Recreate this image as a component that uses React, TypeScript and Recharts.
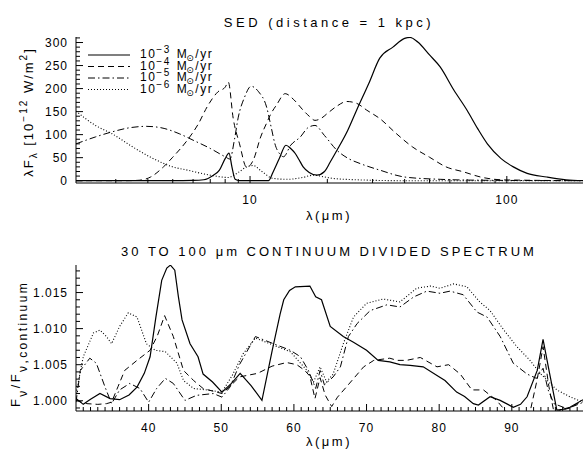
import React from 'react';
import { LineChart, Line, XAxis, YAxis } from 'recharts';

const FONT = '"Liberation Sans", Arial, sans-serif';

// top panel: SED, wavelength (micron) vs lambda*F_lambda (1e-12 W/m^2)
const sedLam3 = [2.1, 5.0, 6.0, 6.6, 7.2, 7.6, 8.0, 8.28, 8.5, 8.75, 9.1, 11.8, 12.3, 13.0, 13.8, 14.4, 15.0, 15.5, 16.1, 17.0, 18.2, 19.5, 20.5, 21.8, 24, 26, 29, 32, 36, 40, 42, 45, 50, 55, 62, 70, 77, 84, 95, 106, 120, 143, 170, 200];
const sedFlux3 = [0, 0, 0.5, 2, 12, 23, 48, 60, 30, 3, 0, 0, 19, 48, 77, 70, 59, 46, 30, 18, 12, 20, 40, 66, 109, 153, 211, 266, 290, 309, 311, 301, 273, 247, 198, 153, 113, 80, 48, 30, 16, 8, 2, 0];

const sedLam4 = [2.1, 3.3, 3.7, 4.1, 4.6, 5.0, 5.7, 6.3, 6.8, 7.5, 8.0, 8.23, 8.6, 9.1, 9.7, 10.3, 11.0, 11.6, 12.0, 12.7, 13.7, 14.8, 16.1, 17.0, 17.9, 19.0, 20.0, 21.8, 23.8, 26, 28.5, 32, 37, 43, 50, 58, 68, 79, 95, 120, 200];
const sedFlux4 = [0, 0, 1, 8, 30, 51, 88, 124, 160, 193, 203, 214, 135, 80, 29, 45, 95, 125, 143, 165, 189, 176, 153, 140, 131, 136, 146, 162, 172, 168, 153, 135, 103, 73, 51, 30, 19, 8, 2, 1, 0];

const sedLam5 = [2.1, 2.5, 2.9, 3.4, 3.95, 4.5, 5.3, 6.0, 7.0, 8.0, 8.35, 8.7, 9.0, 9.5, 10.1, 10.8, 11.6, 12.1, 12.5, 13.1, 13.5, 14.4, 15.7, 16.8, 17.9, 19.5, 21.8, 24, 26.9, 32, 40, 55, 80, 200];
const sedFlux5 = [80, 95, 106, 115, 118, 115, 102, 88, 70, 52, 47, 90, 138, 180, 205, 193, 160, 115, 80, 57, 52, 77, 95, 115, 120, 98, 66, 49, 37, 23, 8, 3, 1, 0];

const sedLam6 = [2.1, 2.5, 2.9, 3.5, 4.1, 5.0, 5.7, 7.0, 8.2, 9.0, 9.7, 10.3, 11.0, 12.3, 14.0, 16.0, 17.7, 19.5, 21.0, 26, 40, 200];
const sedFlux6 = [151, 120, 102, 73, 51, 30, 23, 12, 7, 18, 30, 33, 22, 5, 3, 7, 12, 8, 5, 2, 0, 0];

// bottom panel: F_nu / F_nu,continuum between 30 and 100 micron
const divLam3 = [30, 31, 32, 33.3, 34.7, 36, 37.3, 38.4, 39.4, 40.2, 41, 41.8, 42.5, 43, 43.6, 44.1, 44.6, 45.7, 46.8, 47.5, 48.8, 50.1, 51.4, 52.6, 54.1, 55.6, 57, 58.1, 58.6, 59.4, 60.2, 62.2, 63.0, 63.8, 65, 66.8, 68.2, 70, 71.6, 73.2, 74.6, 76, 77.8, 79.7, 80.8, 82.4, 83.5, 84.7, 85.4, 87, 88.4, 90.2, 91.2, 92.1, 93.5, 94.3, 95.2, 96.2, 97, 98, 99.8];
const divRatio3 = [1.0003, 0.9995, 1.0002, 1.001, 1.0003, 1.00015, 1.0008, 1.0019, 1.0038, 1.0061, 1.0116, 1.0167, 1.0184, 1.0188, 1.0181, 1.0144, 1.0112, 1.0079, 1.0061, 1.0037, 1.0026, 1.0012, 1.0024, 1.0038, 1.0021, 1.00005, 1.0069, 1.012, 1.014, 1.0153, 1.0158, 1.0159, 1.0144, 1.014, 1.0103, 1.0089, 1.0081, 1.007, 1.0056, 1.0054, 1.005, 1.0049, 1.0047, 1.0035, 1.0028, 1.0012, 1.0006, 0.9996, 0.9994, 1.00055, 1.00005, 0.9991, 0.9995, 1.00055, 1.0042, 1.0085, 1.0038, 0.9987, 0.9988, 0.9991, 1.00015];

const divLam4 = [30, 31.5, 33, 34.2, 34.9, 35.8, 36.7, 38.4, 40.2, 41.2, 42.2, 43.4, 44.8, 46.2, 47.5, 50.1, 51.2, 52.5, 55, 57, 59, 60.4, 61.5, 62.2, 62.9, 63.6, 64.3, 65.2, 66, 67.3, 69.6, 71, 73.2, 74.2, 75.5, 77.4, 79.7, 81.3, 82.9, 84.5, 86.1, 87.9, 89.3, 92.5, 93.5, 94.3, 95.1, 95.8, 98, 99, 99.8];
const divRatio4 = [1.00005, 0.9996, 0.9995, 0.9996, 0.9998, 1.002, 1.0042, 1.0056, 1.007, 1.009, 1.0118, 1.0089, 1.0042, 1.0028, 1.0017, 1.001, 1.002, 1.0033, 1.0038, 1.0048, 1.0053, 1.005, 1.0042, 1.0034, 1.0003, 1.0032, 1.0008, 0.9992, 1.0005, 1.002, 1.0047, 1.0056, 1.0059, 1.0056, 1.0056, 1.006, 1.0047, 1.005, 1.0037, 1.0015, 1.0015, 1.00005, 0.9984, 0.9984, 1.003, 1.0075, 1.002, 0.9984, 0.999, 0.9996, 1.0];

const divLam5 = [30, 30.6, 31.9, 32.8, 34, 34.9, 36, 37.4, 38.8, 40, 41.1, 42.3, 43.4, 45, 46.6, 48.9, 50.1, 51.2, 52.5, 54.7, 57.2, 59.5, 60.9, 62, 63, 63.6, 64.2, 65.4, 66.4, 67.5, 68.7, 70.5, 72.8, 74.6, 76.5, 78.3, 80.1, 81.5, 83.3, 85.2, 86.6, 88.4, 90.2, 92.1, 93.4, 94.3, 95.0, 95.8, 97.6, 99.4, 99.8];
const divRatio5 = [0.9998, 1.0042, 1.0059, 1.0052, 1.0019, 0.9996, 1.0015, 1.0024, 1.0017, 0.9998, 1.0017, 1.0031, 1.0024, 1.00005, 1.00075, 1.001, 1.0005, 1.0019, 1.005, 1.0089, 1.0079, 1.007, 1.0061, 1.0042, 1.0017, 1.0042, 1.0022, 1.0033, 1.0047, 1.0089, 1.0107, 1.0125, 1.0133, 1.013, 1.0144, 1.0152, 1.0149, 1.0152, 1.0147, 1.0123, 1.0116, 1.0089, 1.0052, 1.0037, 1.0031, 1.0045, 1.0015, 0.9996, 0.9989, 0.9996, 0.9998];

const divLam6 = [30, 31, 32.4, 33.3, 34.2, 34.9, 36, 37.2, 38.4, 39.7, 40.9, 42.3, 43.9, 44.8, 46.2, 48, 50.1, 51.5, 53, 54.7, 57.2, 59.5, 61.8, 62.7, 63.6, 64.5, 65.4, 66.8, 68.2, 70, 72.3, 74.6, 76.9, 78.8, 80.1, 82, 83.8, 85.6, 87, 88.9, 90.7, 92.5, 93.9, 96.2, 98, 99.8];
const divRatio6 = [1.001, 1.0061, 1.0094, 1.0098, 1.0089, 1.0079, 1.0103, 1.0122, 1.0116, 1.0079, 1.007, 1.0068, 1.0052, 1.0028, 1.0017, 1.0015, 1.0012, 1.0035, 1.0065, 1.0087, 1.0077, 1.0068, 1.0042, 1.0026, 1.0047, 1.0026, 1.0037, 1.0079, 1.0116, 1.0135, 1.0141, 1.0137, 1.0156, 1.0159, 1.0156, 1.0162, 1.0158, 1.0137, 1.0125, 1.0098, 1.0075, 1.0056, 1.0038, 1.0015, 1.00055, 0.9998];

// legend: mass-loss rate exponents (M_sun/yr)
const rateExponents = ['\u22123', '\u22124', '\u22125', '\u22126'];

// tick labels
const sedXLabels = [10, 100];
const sedYLabels = [0, 50, 100, 150, 200, 250, 300];
const divXLabels = [40, 50, 60, 70, 80, 90];
const divYLabels = [1.0, 1.005, 1.01, 1.015];
const sedXTicks = [3, 4, 5, 6, 7, 8, 9, 10, 20, 30, 40, 50, 60, 70, 80, 90, 100];

const steps = (from: number, to: number, step: number, dec: number) => {
  const out: number[] = [];
  for (let v = from; v <= to + step / 2; v += step) out.push(+v.toFixed(dec));
  return out;
};
const sedYTicks = steps(0, 310, 10, 0);
const divXTicks = steps(31, 99, 1, 0);
const divYTicks = steps(0.999, 1.018, 0.001, 3);

const zip = (xs: number[], ys: number[]) => xs.map((x, i) => ({ x, y: ys[i] }));

// solid, dashed, dash-dot, dotted (IDL linestyles 0..3)
const lineStyles = [
  { dash: undefined as string | undefined, width: 1.2 },
  { dash: '6 4', width: 1 },
  { dash: '7 3 1.5 3', width: 1 },
  { dash: '1 2', width: 1.1 },
];

type Side = 'bottom' | 'top' | 'left' | 'right';

const tickText: React.CSSProperties = { fontFamily: FONT, fontSize: 12, letterSpacing: 1, fill: '#000' };

function makeTick(side: Side, labels: number[], fmt?: (v: number) => string) {
  return (props: any) => {
    const { x, y, payload } = props;
    const v: number = payload.value;
    const major = labels.some((m) => Math.abs(m - v) < 1e-9);
    const len = major ? 7 : 4;
    const dx = side === 'left' ? len : side === 'right' ? -len : 0;
    const dy = side === 'bottom' ? -len : side === 'top' ? len : 0;
    return (
      <g>
        <line x1={x} y1={y} x2={x + dx} y2={y + dy} stroke="#000" strokeWidth={1} />
        {major && fmt && side === 'bottom' ? (
          <text x={x} y={y + 21} textAnchor="middle" style={tickText}>{fmt(v)}</text>
        ) : null}
        {major && fmt && side === 'left' ? (
          <text x={x - 8} y={y + 4} textAnchor="end" style={tickText}>{fmt(v)}</text>
        ) : null}
      </g>
    );
  };
}

interface PanelProps {
  top: number;
  series: { x: number; y: number }[][];
  xScale: 'log' | 'linear';
  xDomain: [number, number];
  xTicks: number[];
  xLabels: number[];
  yDomain: [number, number];
  yTicks: number[];
  yLabels: number[];
  yFmt: (v: number) => string;
  curve: 'monotone' | 'linear';
}

function Panel(p: PanelProps) {
  const axisLine = { stroke: '#000', strokeWidth: 1 };
  return (
    <div style={{ position: 'absolute', left: 0, top: p.top }}>
      <LineChart width={584} height={220} margin={{ top: 37, right: 1, bottom: 7, left: 0 }}>
        <XAxis xAxisId="b" dataKey="x" type="number" scale={p.xScale} domain={p.xDomain} allowDataOverflow
          ticks={p.xTicks} interval={0} tickSize={0} tickMargin={0} tickLine={false} axisLine={axisLine}
          height={30} tick={makeTick('bottom', p.xLabels, (v) => String(v))} />
        <XAxis xAxisId="t" orientation="top" dataKey="x" type="number" scale={p.xScale} domain={p.xDomain} allowDataOverflow
          ticks={p.xTicks} interval={0} tickSize={0} tickMargin={0} tickLine={false} axisLine={axisLine}
          height={0} tick={makeTick('top', p.xLabels)} />
        <YAxis yAxisId="l" type="number" domain={p.yDomain} allowDataOverflow
          ticks={p.yTicks} interval={0} tickSize={0} tickMargin={0} tickLine={false} axisLine={axisLine}
          width={76} tick={makeTick('left', p.yLabels, p.yFmt)} />
        <YAxis yAxisId="r" orientation="right" type="number" domain={p.yDomain} allowDataOverflow
          ticks={p.yTicks} interval={0} tickSize={0} tickMargin={0} tickLine={false} axisLine={axisLine}
          width={0} tick={makeTick('right', p.yLabels)} />
        {p.series.map((d, i) => (
          <Line key={i} xAxisId="b" yAxisId="l" data={d} dataKey="y" type={p.curve}
            stroke="#000" strokeWidth={lineStyles[i].width} strokeDasharray={lineStyles[i].dash}
            dot={false} activeDot={false} isAnimationActive={false} />
        ))}
      </LineChart>
    </div>
  );
}

export default function App() {
  const sedSeries = [zip(sedLam3, sedFlux3), zip(sedLam4, sedFlux4), zip(sedLam5, sedFlux5), zip(sedLam6, sedFlux6)];
  const divSeries = [zip(divLam3, divRatio3), zip(divLam4, divRatio4), zip(divLam5, divRatio5), zip(divLam6, divRatio6)];

  return (
    <div style={{ position: 'absolute', left: 0, top: 0, width: 584, height: 452, background: '#fff', fontFamily: FONT }}>
      <Panel top={0} series={sedSeries} xScale="log" xDomain={[2.1, 198]} xTicks={sedXTicks} xLabels={sedXLabels}
        yDomain={[-5, 312]} yTicks={sedYTicks} yLabels={sedYLabels} yFmt={(v) => String(v)} curve="monotone" />
      <Panel top={228} series={divSeries} xScale="linear" xDomain={[30, 99.8]} xTicks={divXTicks} xLabels={divXLabels}
        yDomain={[0.99858, 1.01882]} yTicks={divYTicks} yLabels={divYLabels} yFmt={(v) => v.toFixed(3)} curve="linear" />

      <svg width={584} height={452} style={{ position: 'absolute', left: 0, top: 0, pointerEvents: 'none' }}
        fontFamily={FONT} fill="#000">
        <text x={329} y={27} textAnchor="middle" fontSize={13} letterSpacing={3.5}>SED (distance = 1 kpc)</text>
        <text x={329} y={256} textAnchor="middle" fontSize={13} letterSpacing={3}>30 TO 100 μm CONTINUUM DIVIDED SPECTRUM</text>
        <text x={329} y={220} textAnchor="middle" fontSize={13} letterSpacing={2.5}>λ(μm)</text>
        <text x={329} y={446} textAnchor="middle" fontSize={13} letterSpacing={2.5}>λ(μm)</text>

        <text transform="rotate(-90, 33, 112)" x={33} y={112} textAnchor="middle" fontSize={13} letterSpacing={2}>
          λF<tspan fontSize={10} dy={4}>λ</tspan>
          <tspan dy={-4}> [10</tspan>
          <tspan fontSize={10} dy={-6}>−12</tspan>
          <tspan dy={6}> W/m</tspan>
          <tspan fontSize={10} dy={-6}>2</tspan>
          <tspan dy={6}>]</tspan>
        </text>

        <text transform="rotate(-90, 20, 344)" x={20} y={344} textAnchor="middle" fontSize={13} letterSpacing={2.4}>
          F<tspan fontSize={12} dy={7}>ν</tspan>
          <tspan dy={-7}>/F</tspan>
          <tspan fontSize={12} dy={7}>ν,continuum</tspan>
        </text>

        {rateExponents.map((e, i) => {
          const ly = 55 + i * 11.5;
          return (
            <g key={e}>
              <line x1={88} x2={130} y1={ly} y2={ly} stroke="#000" strokeWidth={lineStyles[i].width}
                strokeDasharray={lineStyles[i].dash} />
              <text x={140} y={ly + 3.3} fontSize={12} letterSpacing={1.5}>
                10<tspan fontSize={10} dy={-5}>{e}</tspan>
                <tspan dx={6} dy={5}>M</tspan>
                <tspan fontSize={9} dx={-2} dy={3} fontFamily="DejaVu Sans">⊙</tspan>
                <tspan dy={-3}>/yr</tspan>
              </text>
            </g>
          );
        })}
      </svg>
    </div>
  );
}
